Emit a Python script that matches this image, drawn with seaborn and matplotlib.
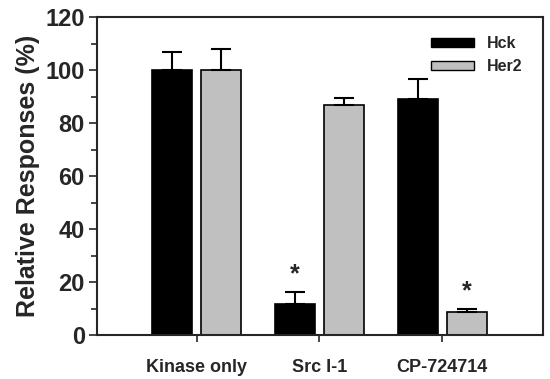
import pandas as pd
import matplotlib.pyplot as plt
import seaborn as sns
from matplotlib.patches import Patch
from matplotlib.ticker import MultipleLocator

# --- Données ---
conditions = ['Kinase only', 'Src I-1', 'CP-724714']
kinases = ['Hck', 'Her2']
hck_values = [100, 12, 89]
her2_values = [100, 87, 9]
hck_err = [7, 4.5, 7.5]
her2_err = [8, 2.5, 1]
signif = [False, True, False]        # astérisque sur Hck
signif_her2 = [False, False, True]   # astérisque sur Her2

df = pd.DataFrame({
    'condition': conditions * 2,
    'kinase': ['Hck'] * 3 + ['Her2'] * 3,
    'value': hck_values + her2_values,
    'err': hck_err + her2_err,
    'star': signif + signif_her2,
})

sns.set_style('ticks')
plt.rcParams['font.family'] = ['Liberation Sans', 'DejaVu Sans']
plt.rcParams['font.weight'] = 'bold'

fig, ax = plt.subplots(figsize=(5.5, 3.79), dpi=100)
palette = {'Hck': 'black', 'Her2': '#c0c0c0'}
sns.barplot(data=df, x='condition', y='value', hue='kinase', order=conditions,
            hue_order=kinases, palette=palette, errorbar=None, gap=0.18,
            edgecolor='black', linewidth=1.2, saturation=1, ax=ax, legend=False)

# barres d'erreur (vers le haut seulement) et astérisques
for patch, (_, row) in zip(ax.patches, df.iterrows()):
    xc = patch.get_x() + patch.get_width() / 2
    ax.errorbar(xc, row['value'], yerr=[[0], [row['err']]], fmt='none',
                ecolor='black', elinewidth=1.5, capsize=7, capthick=1.5)
    if row['star']:
        ax.text(xc, row['value'] + row['err'] + 2, '*', ha='center', va='bottom',
                fontsize=18, fontweight='bold')

ax.set_ylim(0, 120)
ax.set_xlim(-0.81, 2.82)
ax.yaxis.set_major_locator(MultipleLocator(20))
ax.yaxis.set_minor_locator(MultipleLocator(10))
ax.tick_params(axis='y', which='major', length=6, width=1.2, labelsize=17, pad=3)
ax.tick_params(axis='y', which='minor', length=4, width=1.2)
ax.tick_params(axis='x', length=5, width=1.2, labelsize=13, pad=12)
for s in ax.spines.values():
    s.set_linewidth(1.5)

ax.set_xlabel('')
ax.set_ylabel('Relative Responses (%)', fontsize=18, fontweight='bold', labelpad=4)

handles = [Patch(facecolor=palette[k], edgecolor='black', label=k) for k in kinases]
ax.legend(handles=handles, loc='upper right', frameon=False, fontsize=11.5,
          handlelength=2.7, handleheight=0.55, handletextpad=0.8,
          borderaxespad=0.6, bbox_to_anchor=(0.99, 0.99))

plt.subplots_adjust(left=0.177, right=0.987, top=0.955, bottom=0.115)
plt.savefig('out.png', dpi=100)
